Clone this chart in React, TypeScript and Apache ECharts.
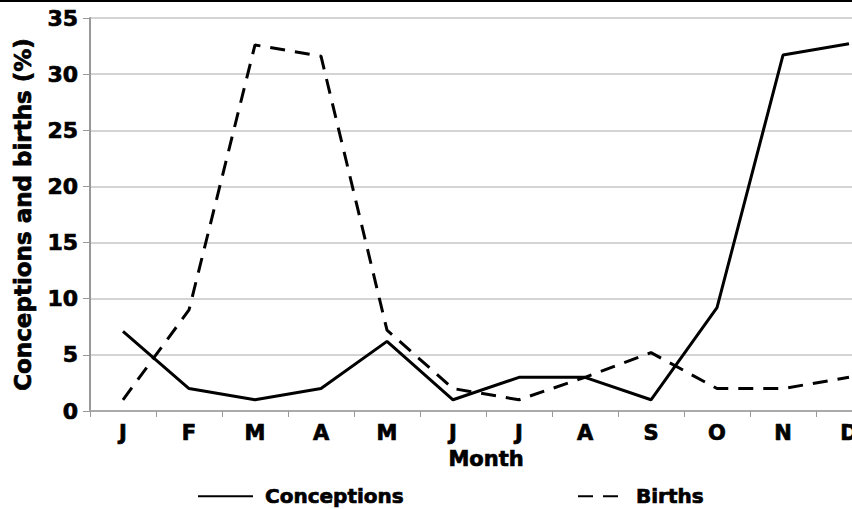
import React, { useEffect, useRef } from "react";
import * as echarts from "echarts";

const months = ["J", "F", "M", "A", "M", "J", "J", "A", "S", "O", "N", "D"];
const conceptions = [7.1, 2, 1, 2, 6.2, 1, 3, 3, 1, 9.2, 31.7, 32.7];
const births = [1, 9, 32.6, 31.6, 7.2, 2, 1, 3, 5.2, 2, 2, 3];
const yTicks = { min: 0, max: 35, interval: 5 };

const FONT = "DejaVu Sans";

export default function App() {
  const ref = useRef<HTMLDivElement>(null);
  useEffect(() => {
    if (!ref.current) return;
    const chart = echarts.init(ref.current, null, { renderer: "svg" });
    const textStyle = {
      fontFamily: FONT,
      fontWeight: "bold" as const,
      color: "#000",
      fontSize: 21,
      textBorderColor: "#000",
      textBorderWidth: 0.7,
    };
    const legendText = { ...textStyle, fontSize: 20, lineHeight: 18, padding: [0, 0, 0, 7] };
    chart.setOption({
      animation: false,
      backgroundColor: "#fff",
      grid: { left: 90, top: 18, bottom: 98, right: 0, containLabel: false, outerBoundsMode: "none" },
      graphic: [
        { type: "rect", left: 0, top: 0, shape: { width: 882, height: 2 }, style: { fill: "#000" } },
      ],
      legend: [
        {
          data: ["Conceptions"],
          left: 197,
          top: 486,
          padding: 0,
          itemWidth: 55,
          itemHeight: 14,
          itemGap: 12,
          itemStyle: { opacity: 0 },
          textStyle: legendText,
        },
        {
          data: ["Births"],
          left: 577,
          top: 486,
          padding: 0,
          itemWidth: 46,
          itemHeight: 14,
          itemGap: 12,
          itemStyle: { opacity: 0 },
          textStyle: legendText,
        },
      ],
      xAxis: {
        type: "category",
        data: months,
        boundaryGap: true,
        name: "Month",
        nameLocation: "middle",
        nameGap: 37,
        nameTextStyle: { ...textStyle, fontSize: 21 },
        axisLine: { lineStyle: { color: "#aaa", width: 2 } },
        axisTick: { show: true, length: 6, lineStyle: { color: "#999", width: 1 } },
        axisLabel: { ...textStyle, margin: 11 },
        splitLine: { show: false },
      },
      yAxis: {
        type: "value",
        min: yTicks.min,
        max: yTicks.max,
        interval: yTicks.interval,
        name: "Conceptions and births (%)",
        nameLocation: "middle",
        nameGap: 56,
        nameTextStyle: { ...textStyle, fontSize: 23 },
        axisLine: { show: true, lineStyle: { color: "#999", width: 2 } },
        axisTick: { show: true, length: 7, lineStyle: { color: "#999", width: 1 } },
        axisLabel: { ...textStyle, fontSize: 22, margin: 12 },
        splitLine: { show: true, lineStyle: { color: "#d4d4d4", width: 2 } },
      },
      series: [
        {
          name: "Conceptions",
          type: "line",
          data: conceptions,
          symbol: "none",
          lineStyle: { color: "#000", width: 3 },
          itemStyle: { color: "#000" },
        },
        {
          name: "Births",
          type: "line",
          data: births,
          symbol: "none",
          lineStyle: { color: "#000", width: 3, type: [15, 10] },
          itemStyle: { color: "#000" },
        },
      ],
    });
    return () => chart.dispose();
  }, []);
  return (
    <div style={{ position: "fixed", left: 0, top: 0, width: 852, height: 509, overflow: "hidden", background: "#fff" }}>
      <div ref={ref} style={{ width: 882, height: 509 }} />
    </div>
  );
}
